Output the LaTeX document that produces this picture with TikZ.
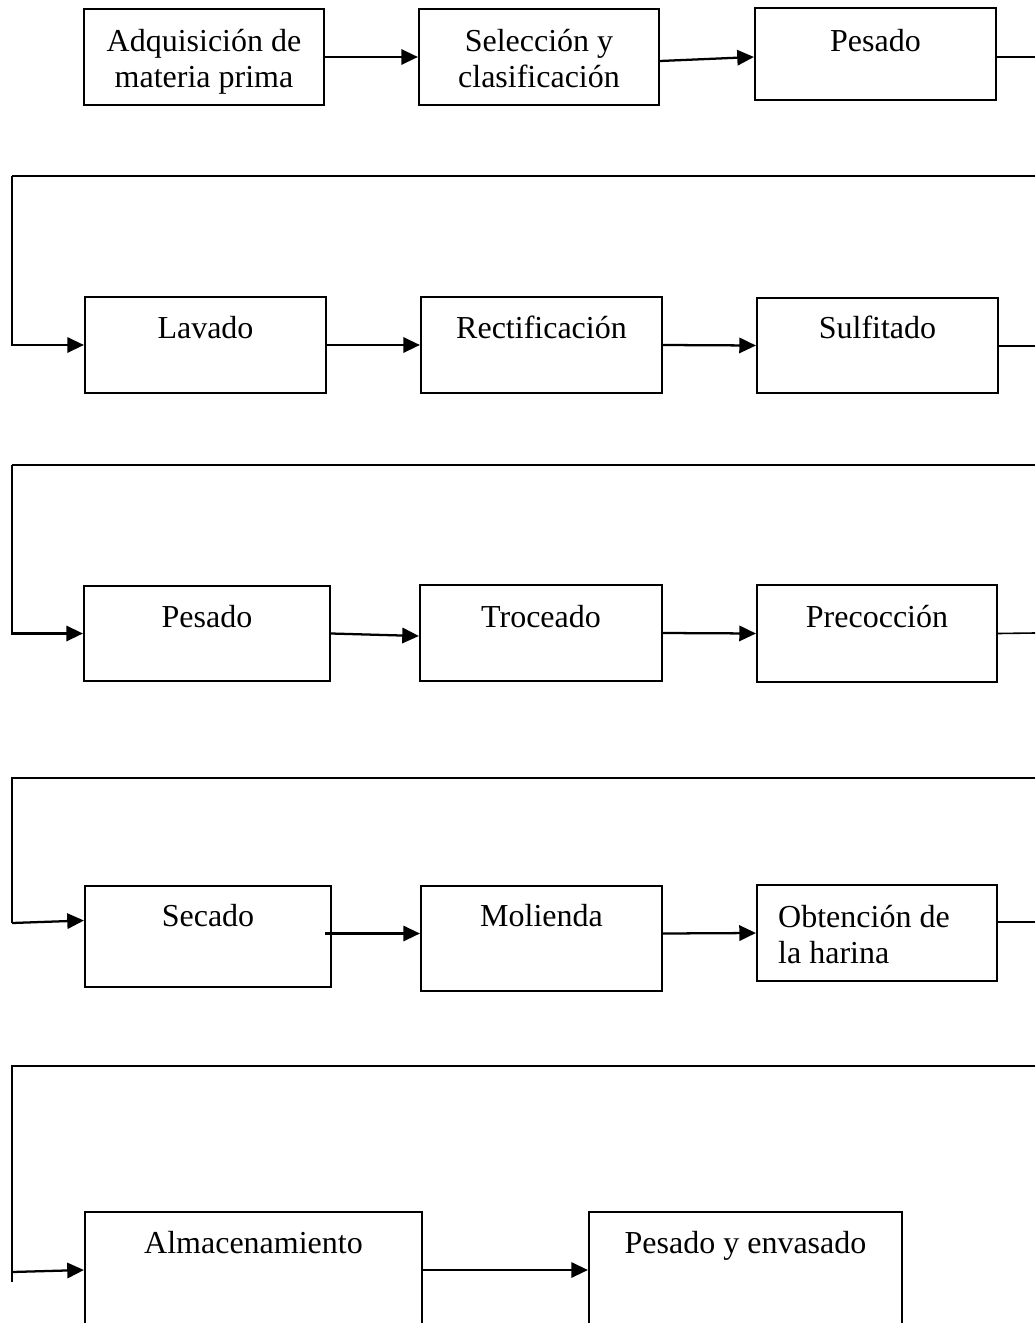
\documentclass[tikz,border=0pt]{standalone}
\usepackage{fontspec}
\setmainfont{Liberation Serif}
\usetikzlibrary{arrows.meta,calc,fit}
\begin{document}
\begin{tikzpicture}[x=0.75pt,y=-0.75pt,
  box/.style={draw,line width=1.6pt,rectangle,inner sep=0pt},
  lbl/.style={anchor=north,inner sep=0pt,align=center,font=\fontsize{24}{27}\selectfont},
  flow/.style={line width=1.7pt,-{Triangle[length=12.5pt,width=11.5pt]}},
  outline/.style={line width=1.2pt},
  retline/.style={line width=1.6pt}]
\clip (0,0) rectangle (1035,1323);
% boxes
\node[box,fit={(84,9)(324,105)}] (b1) {};
\node[box,fit={(419,9)(659,105)}] (b2) {};
\node[box,fit={(755,8)(996,100)}] (b3) {};
\node[box,fit={(85,297)(326,393)}] (b4) {};
\node[box,fit={(421,297)(662,393)}] (b5) {};
\node[box,fit={(757,298)(998,393)}] (b6) {};
\node[box,fit={(84,586)(330,681)}] (b7) {};
\node[box,fit={(420,585)(662,681)}] (b8) {};
\node[box,fit={(757,585)(997,682)}] (b9) {};
\node[box,fit={(85,886)(331,987)}] (b10) {};
\node[box,fit={(421,886)(662,991)}] (b11) {};
\node[box,fit={(757,885)(997,981)}] (b12) {};
\node[box,fit={(85,1212)(422,1345)}] (b13) {};
\node[box,fit={(589,1212)(902,1345)}] (b14) {};
% labels
\node[lbl] (t1) at ($(b1.north)+(0,21)$) {Adquisición de\\materia prima};
\node[lbl] (t2) at ($(b2.north)+(0,21)$) {Selección y\\clasificación};
\node[lbl] (t3) at ($(b3.north)+(0,22)$) {Pesado};
\node[lbl] (t4) at ($(b4.north)+(0,20)$) {Lavado};
\node[lbl] (t5) at ($(b5.north)+(0,20)$) {Rectificación};
\node[lbl] (t6) at ($(b6.north)+(0,19)$) {Sulfitado};
\node[lbl] (t7) at ($(b7.north)+(0,20)$) {Pesado};
\node[lbl] (t8) at ($(b8.north)+(0,21)$) {Troceado};
\node[lbl] (t9) at ($(b9.north)+(0,21)$) {Precocción};
\node[lbl] (t10) at ($(b10.north)+(0,19)$) {Secado};
\node[lbl] (t11) at ($(b11.north)+(0,19)$) {Molienda};
\node[lbl,anchor=north west,align=left] (t12) at ($(b12.north west)+(22,21)$) {Obtención de\\la harina};
\node[lbl] (t13) at ($(b13.north)+(0,20)$) {Almacenamiento};
\node[lbl] (t14) at ($(b14.north)+(0,20)$) {Pesado y envasado};
% edge coordinates
\coordinate (r1) at (1035,57);
\coordinate (r2) at (1035,346);
\coordinate (r3) at (1035,633);
\coordinate (r4) at (1035,922);
\coordinate (s2) at (1035,176);
\coordinate (c2) at (12,176);
\coordinate (s3) at (1035,465);
\coordinate (c3) at (12,465);
\coordinate (s4) at (1035,778);
\coordinate (c4) at (12,778);
\coordinate (d4) at (12,923);
\coordinate (s5) at (1035,1066);
\coordinate (c5) at (12,1066);
\coordinate (d5) at (12,1282);
\coordinate (e5) at (12,1272);
% row 1
\draw[flow] (b1.east) -- (b2.west);
\draw[flow] ($(b2.east)+(0,4)$) -- ($(b3.west)+(0,3)$);
\draw[outline] ($(b3.east)+(0,3)$) -- (r1);
% row 2
\draw[retline] (s2) -- (c2);
\draw[flow] (c2) |- (b4.west);
\draw[flow] (b4.east) -- (b5.west);
\draw[flow] (b5.east) -- (b6.west);
\draw[outline] ($(b6.east)+(0,0.5)$) -- (r2);
% row 3
\draw[retline] (s3) -- (c3);
\draw[flow] (c3) |- (b7.west);
\draw[flow] (b7.east) -- ($(b8.west)+(0,3)$);
\draw[flow] (b8.east) -- (b9.west);
\draw[outline] (b9.east) -- (r3);
% row 4
\draw[retline] (s4) -- (c4) -- (d4);
\draw[flow] (d4) -- ($(b10.west)+(0,-16)$);
\draw[flow] ($(b10.east)+(-7,-3)$) -- ($(b11.west)+(0,-5)$);
\draw[flow] ($(b11.east)+(0,-5)$) -- ($(b12.west)+(0,0)$);
\draw[outline] ($(b12.east)+(0,-11)$) -- (r4);
% row 5
\draw[retline] (s5) -- (c5) -- (d5);
\draw[flow] (e5) -- ($(b13.west |- e5)+(0,-2)$);
\draw[flow] ($(b13.east |- e5)+(0,-2)$) -- ($(b14.west |- e5)+(0,-2)$);
\end{tikzpicture}
\end{document}
